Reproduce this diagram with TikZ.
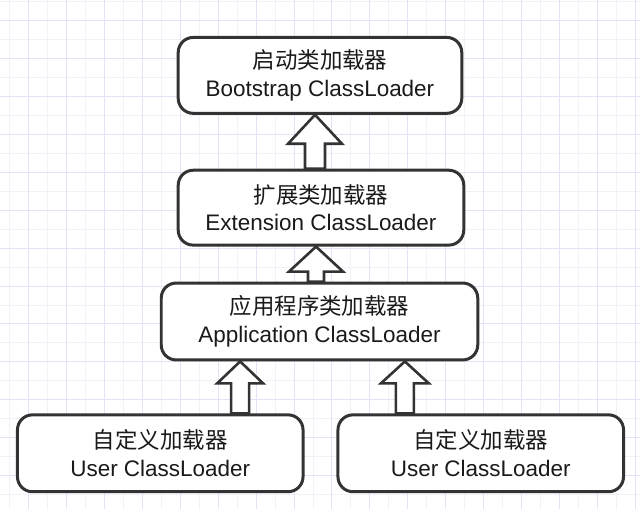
\documentclass[tikz,border=0pt]{standalone}
\usepackage{fontspec}
\setmainfont{Liberation Sans}
\newfontfamily\cjk{Noto Sans CJK SC}
\usetikzlibrary{calc}
\pgfdeclarelayer{bg}
\pgfdeclarelayer{arrows}
\pgfsetlayers{bg,arrows,main}
\definecolor{gridmajor}{HTML}{E4E2F4}
\definecolor{gridminor}{HTML}{F2F1FA}
\definecolor{ink}{HTML}{1A1A1A}
\definecolor{edge}{HTML}{333333}
\tikzset{
  loader/.style={draw=edge, line width=3pt, rounded corners=15pt, fill=white,
    inner sep=0pt, align=center, text=ink,
    font=\fontsize{22.5}{27.5}\selectfont},
  blockarrow/.style={draw=edge, line width=2.6pt, fill=white, line join=miter}
}
\newcommand\barrow[6]{%
  \draw[blockarrow] let \p1=($(#1.south)+(#3pt,0)$), \p2=(#2.north) in
    (\x1,\y1) -- (\x1+#5pt,\y1-#4pt) -- (\x1+#6pt,\y1-#4pt) -- (\x1+#6pt,\y2)
    -- (\x1-#6pt,\y2) -- (\x1-#6pt,\y1-#4pt) -- (\x1-#5pt,\y1-#4pt) -- cycle;}
\begin{document}
\begin{tikzpicture}[x=1pt,y=-1pt]
\begin{pgfonlayer}{bg}
  \fill[white] (0,0) rectangle (640,509);
  \foreach \x in {9,47,...,640} \draw[gridminor, line width=1pt] (\x,0) -- (\x,509);
  \foreach \y in {1,39,...,509} \draw[gridminor, line width=1pt] (0,\y) -- (640,\y);
  \foreach \x in {28,66,...,640} \draw[gridmajor, line width=1pt] (\x,0) -- (\x,509);
  \foreach \y in {20,58,...,509} \draw[gridmajor, line width=1pt] (0,\y) -- (640,\y);
\end{pgfonlayer}
\useasboundingbox (0,0) rectangle (640,509);

\node[loader, minimum width=284pt, minimum height=76pt] (b1) at (320,75)
  {{\cjk 启动类加载器}\\Bootstrap ClassLoader};
\node[loader, minimum width=286pt, minimum height=75pt] (b2) at (321,207.5)
  {{\cjk 扩展类加载器}\\Extension ClassLoader};
\node[loader, minimum width=317pt, minimum height=77pt] (b3) at (319.5,321.5)
  {{\cjk 应用程序类加载器}\\Application ClassLoader};
\node[loader, minimum width=286pt, minimum height=77pt] (b4) at (160,453.5)
  {{\cjk 自定义加载器}\\User ClassLoader};
\node[loader, minimum width=286pt, minimum height=77pt] (b5) at (481,453.5)
  {{\cjk 自定义加载器}\\User ClassLoader};

\begin{pgfonlayer}{arrows}
  \barrow{b1}{b2}{-5}{29}{27}{10}
  \barrow{b2}{b3}{-5}{25}{27}{8}
  \barrow{b3}{b4}{-79.5}{22}{23}{9}
  \barrow{b3}{b5}{85.5}{22}{24}{9}
\end{pgfonlayer}
\end{tikzpicture}
\end{document}
